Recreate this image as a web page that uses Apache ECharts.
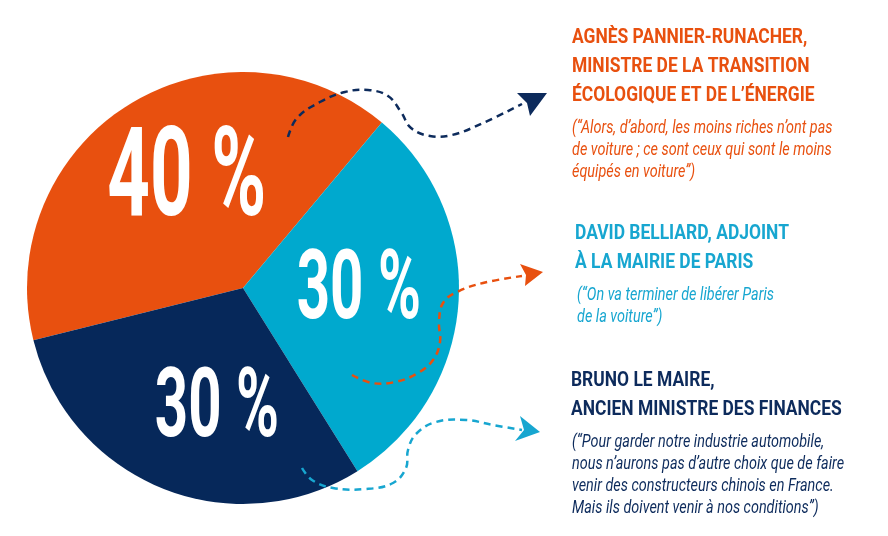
<!DOCTYPE html>
<html>
<head>
<meta charset="utf-8">
<script src="https://cdn.jsdelivr.net/npm/echarts@6/dist/echarts.min.js"></script>
<style>
  html, body { margin: 0; padding: 0; background: #fff; }
  #chart { width: 888px; height: 536px; }
</style>
</head>
<body>
<div id="chart"></div>
<script>
// 数据
var names = ['Agnès Pannier-Runacher', 'David Belliard', 'Bruno Le Maire'];
var shares = [40, 30, 30];
var shareLabels = ['40 %', '30 %', '30 %'];

var titleLines = [
  ['AGNÈS PANNIER-RUNACHER,', 'MINISTRE DE LA TRANSITION', 'ÉCOLOGIQUE ET DE L’ÉNERGIE'],
  ['DAVID BELLIARD, ADJOINT', 'À LA MAIRIE DE PARIS'],
  ['BRUNO LE MAIRE,', 'ANCIEN MINISTRE DES FINANCES']
];
var quoteLines = [
  ['(“Alors, d’abord, les moins riches n’ont pas', 'de voiture ; ce sont ceux qui sont le moins', 'équipés en voiture”)'],
  ['(“On va terminer de libérer Paris', 'de la voiture”)'],
  ['(“Pour garder notre industrie automobile,', 'nous n’aurons pas d’autre choix que de faire', 'venir des constructeurs chinois en France.', 'Mais ils doivent venir à nos conditions”)']
];

(function () {
  var myChart = echarts.init(document.getElementById('chart'));

  var colors = ['#e8500f', '#00a9ce', '#06285a'];
  var textColors = ['#e8500f', '#17a6d0', '#0d2b5c'];
  // 饼图位置
  var cx = 243, cy = 288, R = 216, startAngle = 194;
  // 百分比文字的微调偏移
  var labelNudge = [[9, 0], [-7, -3], [20, 10]];

  var graphics = [];

  // 饼图上的百分比文字（压窄字体）
  var total = shares.reduce(function (a, b) { return a + b; }, 0);
  var cum = 0;
  for (var i = 0; i < shares.length; i++) {
    var mid = (startAngle - (cum + shares[i] / 2) / total * 360) * Math.PI / 180;
    cum += shares[i];
    graphics.push({
      type: 'text',
      x: cx + R * 0.57 * Math.cos(mid) + labelNudge[i][0],
      y: cy - R * 0.57 * Math.sin(mid) + labelNudge[i][1],
      scaleX: 0.6,
      z: 100,
      style: {
        text: shareLabels[i],
        font: 'bold ' + Math.round(shares[i] * 2.7 + 16) + 'px Roboto',
        fill: '#fff',
        align: 'center', verticalAlign: 'middle',
        textAlign: 'center', textVerticalAlign: 'middle'
      }
    });
  }

  // 右侧文字
  var blocks = [
    { x: 572, y: 38, qx: 572, qy: 128 },
    { x: 575, y: 234, qx: 577, qy: 295 },
    { x: 571, y: 381, qx: 572, qy: 442 }
  ];
  blocks.forEach(function (b, k) {
    titleLines[k].forEach(function (line, j) {
      graphics.push({
        type: 'text', x: b.x, y: b.y + j * 28.7, scaleX: 0.83, z: 100,
        style: {
          text: line, font: 'bold 21px Roboto', fill: textColors[k],
          align: 'left', verticalAlign: 'middle',
          textAlign: 'left', textVerticalAlign: 'middle'
        }
      });
    });
    quoteLines[k].forEach(function (line, j) {
      graphics.push({
        type: 'text', x: b.qx, y: b.qy + j * 22, scaleX: 0.8, z: 100,
        style: {
          text: line, font: 'italic 18px Roboto', fill: textColors[k],
          align: 'left', verticalAlign: 'middle',
          textAlign: 'left', textVerticalAlign: 'middle'
        }
      });
    });
  });

  // 虚线箭头
  var arrows = [
    {
      color: '#0d2b5c',
      points: [[288, 137], [297, 118], [320, 102], [345, 92], [368, 90], [388, 96], [401, 112], [411, 128], [430, 136], [452, 135], [483, 123], [522, 104]],
      head: [[547, 93], [517, 93], [527, 103], [530, 116]]
    },
    {
      color: '#e8500f',
      points: [[352, 375], [372, 383], [395, 382], [418, 373], [433, 360], [440, 342], [439, 322], [443, 303], [457, 292], [483, 283], [522, 276]],
      head: [[543, 272], [520, 264], [526, 275], [525, 286]]
    },
    {
      color: '#17a6d0',
      points: [[302, 468], [312, 480], [333, 488], [366, 489], [393, 483], [406, 468], [408, 450], [416, 434], [436, 422], [466, 420], [493, 425], [522, 430]],
      head: [[540, 432], [520, 416], [524, 430], [515, 441]]
    }
  ];
  arrows.forEach(function (a) {
    graphics.push({
      type: 'polyline', z: 90,
      shape: { points: a.points, smooth: 0.4 },
      style: { stroke: a.color, lineWidth: 2.5, lineDash: [7, 5], fill: null }
    });
    graphics.push({
      type: 'polygon', z: 90,
      shape: { points: a.head },
      style: { fill: a.color }
    });
  });

  var option = {
    backgroundColor: '#fff',
    animation: false,
    graphic: { elements: graphics },
    series: [{
      type: 'pie',
      center: [cx, cy],
      radius: R,
      startAngle: startAngle,
      clockwise: true,
      silent: true,
      label: { show: false },
      labelLine: { show: false },
      itemStyle: { borderWidth: 0 },
      data: names.map(function (n, i) {
        return { name: n, value: shares[i], itemStyle: { color: colors[i] } };
      })
    }]
  };

  myChart.setOption(option);
  window.addEventListener('resize', function () {
    myChart.resize();
  });
})();
</script>
</body>
</html>
